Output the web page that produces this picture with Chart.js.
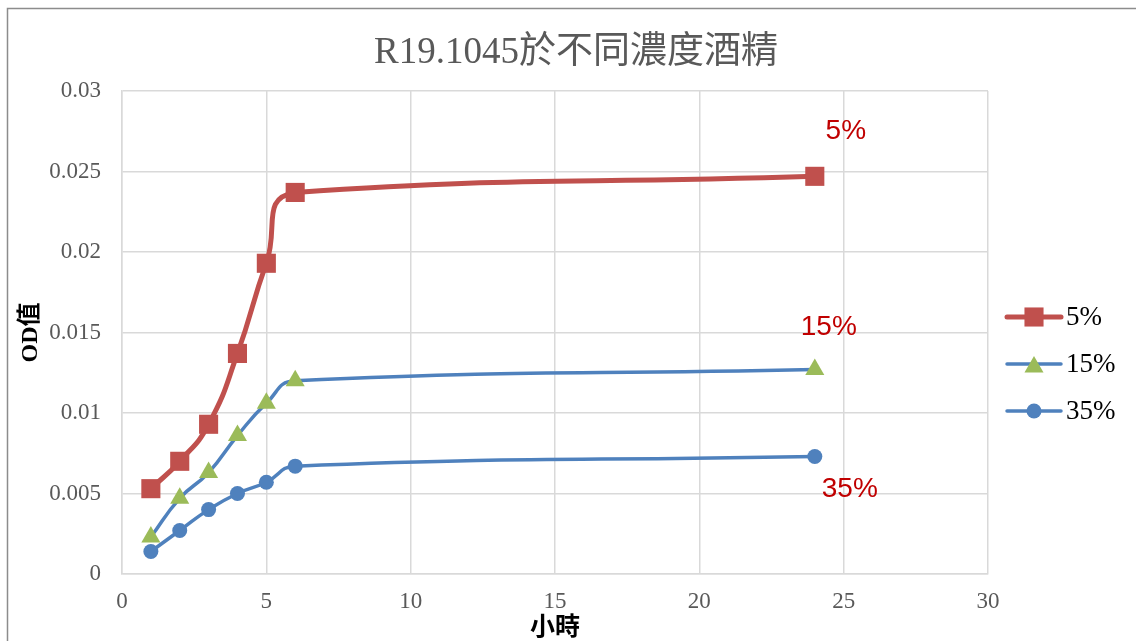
<!DOCTYPE html>
<html>
<head>
<meta charset="utf-8">
<title>R19.1045於不同濃度酒精</title>
<script src="https://cdn.jsdelivr.net/npm/chart.js@4/dist/chart.umd.min.js"></script>
<style>
  html, body { margin: 0; padding: 0; background: #fff; }
  #wrap { width: 1136px; height: 641px; }
</style>
</head>
<body>
<div id="wrap"><canvas id="od"></canvas></div>
<script>
// hours sampled and OD readings for each alcohol concentration
const hours = [1, 2, 3, 4, 5, 6, 24];
const od5 = [0.0053, 0.0070, 0.0093, 0.0137, 0.0193, 0.0237, 0.0247];
const od15 = [0.0023, 0.0047, 0.0063, 0.0086, 0.0106, 0.0120, 0.0127];
const od35 = [0.0014, 0.0027, 0.0040, 0.0050, 0.0057, 0.0067, 0.0073];
const seriesNames = ["5%", "15%", "35%"];
const xTickLabels = ["0", "5", "10", "15", "20", "25", "30"];
const yTickLabels = ["0", "0.005", "0.01", "0.015", "0.02", "0.025", "0.03"];

function toPoints(ys) {
    return hours.map(function (h, i) { return { x: h, y: ys[i] }; });
}

const serifFont = '"Liberation Serif", "Noto Sans CJK TC", serif';

// keep the smoothed curve from bulging past its end points in y
const noBulge = {
    id: "noBulge",
    beforeDatasetsDraw: function (chart) {
        chart.data.datasets.forEach(function (ds, i) {
            let meta = chart.getDatasetMeta(i);
            meta.dataset.updateControlPoints(chart.chartArea, "x");
            let pts = meta.data;
            for (let k = 0; k < pts.length - 1; k++) {
                let a = pts[k], b = pts[k + 1];
                let lo = Math.min(a.y, b.y), hi = Math.max(a.y, b.y);
                a.cp2y = Math.min(hi, Math.max(lo, a.cp2y));
                b.cp1y = Math.min(hi, Math.max(lo, b.cp1y));
            }
        });
    }
};

// frame, title, legend entries and the red series tags at the end of each line
const extras = {
    id: "extras",
    beforeDraw: function (chart) {
        let ctx = chart.ctx;
        ctx.save();
        ctx.fillStyle = "#fff";
        ctx.fillRect(0, 0, chart.width, chart.height);
        ctx.strokeStyle = "#8c8c8c";
        ctx.lineWidth = 1.5;
        ctx.strokeRect(7.5, 8.5, chart.width + 20, chart.height + 20);
        ctx.restore();
    },
    afterDraw: function (chart) {
        let ctx = chart.ctx;
        ctx.save();

        ctx.fillStyle = "#595959";
        ctx.font = '37px ' + serifFont;
        ctx.textAlign = "center";
        ctx.textBaseline = "middle";
        ctx.fillText("R19.1045於不同濃度酒精", 576, 53);

        let legendY = [317, 364, 411];
        chart.data.datasets.forEach(function (ds, i) {
            let y = legendY[i];
            ctx.strokeStyle = ds.borderColor;
            ctx.lineWidth = ds.borderWidth;
            ctx.lineCap = "round";
            ctx.beginPath();
            ctx.moveTo(1007, y);
            ctx.lineTo(1061, y);
            ctx.stroke();
            ctx.fillStyle = ds.pointBackgroundColor;
            ctx.strokeStyle = ds.pointBorderColor;
            Chart.helpers.drawPoint(ctx, {
                pointStyle: ds.pointStyle,
                radius: ds.pointRadius,
                rotation: 0,
                borderWidth: 0
            }, 1034, ds.pointStyle === "triangle" ? y + 3 : y);
            ctx.fillStyle = "#000";
            ctx.font = '27px ' + serifFont;
            ctx.textAlign = "left";
            ctx.textBaseline = "middle";
            ctx.fillText(ds.label, 1066, y + 1);
        });

        let tagOffsets = [[31, -45], [14, -42], [35, 33]];
        ctx.fillStyle = "#c00000";
        ctx.font = '28px "Liberation Sans", Arial, sans-serif';
        ctx.textAlign = "center";
        ctx.textBaseline = "middle";
        chart.data.datasets.forEach(function (ds, i) {
            let pts = chart.getDatasetMeta(i).data;
            let last = pts[pts.length - 1];
            ctx.fillText(ds.label, last.x + tagOffsets[i][0], last.y + tagOffsets[i][1]);
        });

        ctx.restore();
    }
};

let ctx = document.getElementById("od").getContext("2d");
let odChart = new Chart(ctx, {
    type: "scatter",
    data: {
        datasets: [{
            label: seriesNames[0],
            data: toPoints(od5),
            showLine: true,
            tension: 0.5,
            borderColor: "#c0504d",
            borderWidth: 5,
            pointStyle: "rect",
            pointRadius: 13.5,
            pointBackgroundColor: "#c0504d",
            pointBorderColor: "#c0504d",
            pointBorderWidth: 0
        }, {
            label: seriesNames[1],
            data: toPoints(od15),
            showLine: true,
            tension: 0.5,
            borderColor: "#4f81bd",
            borderWidth: 3.5,
            pointStyle: "triangle",
            pointRadius: 11,
            pointBackgroundColor: "#9bbb59",
            pointBorderColor: "#9bbb59",
            pointBorderWidth: 0
        }, {
            label: seriesNames[2],
            data: toPoints(od35),
            showLine: true,
            tension: 0.5,
            borderColor: "#4f81bd",
            borderWidth: 3.5,
            pointStyle: "circle",
            pointRadius: 7.5,
            pointBackgroundColor: "#4f81bd",
            pointBorderColor: "#4f81bd",
            pointBorderWidth: 0
        }]
    },
    options: {
        responsive: true,
        maintainAspectRatio: false,
        animation: false,
        layout: { padding: { left: 0, top: 91, right: 148, bottom: 0 } },
        plugins: {
            legend: { display: false },
            title: { display: false },
            tooltip: { enabled: false }
        },
        scales: {
            x: {
                type: "linear",
                min: 0,
                max: 30,
                afterFit: function (scale) { scale.height = 67; },
                ticks: {
                    stepSize: 5,
                    padding: 14,
                    color: "#595959",
                    font: { family: serifFont, size: 23 },
                    callback: function (v, i) { return xTickLabels[i]; }
                },
                grid: { color: "#d9d9d9", lineWidth: 1.5, drawTicks: false },
                border: { color: "#d9d9d9", width: 1.5 },
                title: {
                    display: true,
                    text: "小時",
                    color: "#000",
                    font: { family: '"Noto Sans CJK TC", sans-serif', size: 25, weight: "bold" },
                    padding: { top: 0, bottom: 1 }
                }
            },
            y: {
                min: 0,
                max: 0.03,
                afterFit: function (scale) { scale.width = 122; },
                ticks: {
                    stepSize: 0.005,
                    padding: 21,
                    color: "#595959",
                    font: { family: serifFont, size: 23 },
                    callback: function (v, i) { return yTickLabels[i]; }
                },
                grid: { color: "#d9d9d9", lineWidth: 1.5, drawTicks: false },
                border: { color: "#d9d9d9", width: 1.5 },
                title: {
                    display: true,
                    text: "OD值",
                    color: "#000",
                    font: { family: serifFont, size: 24, weight: "bold" },
                    padding: { top: 16, bottom: 0 }
                }
            }
        }
    },
    plugins: [noBulge, extras]
});
</script>
</body>
</html>
